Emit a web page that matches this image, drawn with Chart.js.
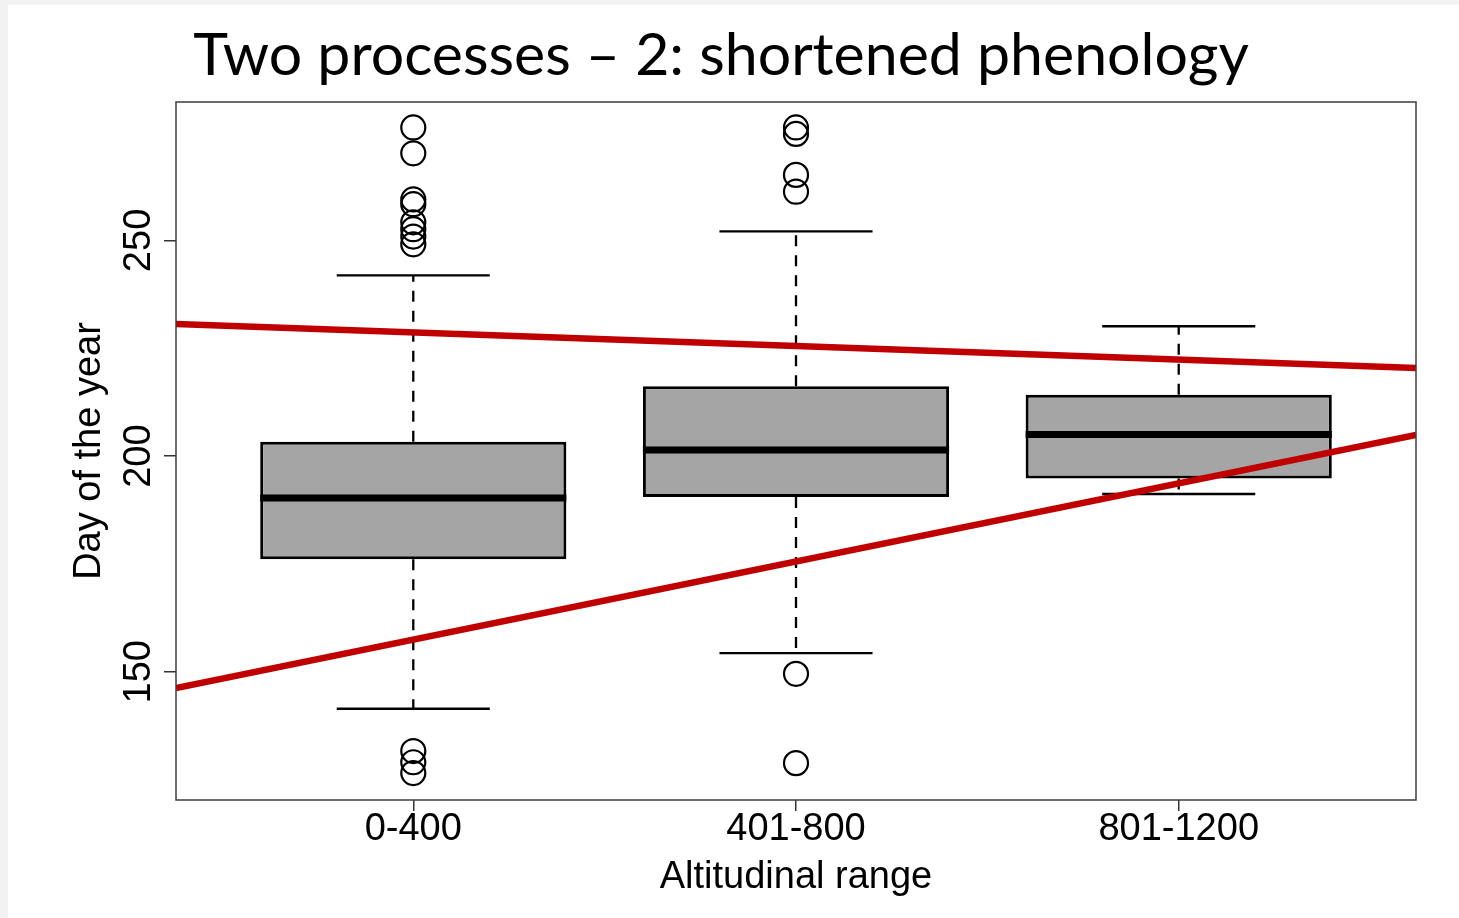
<!DOCTYPE html>
<html>
<head>
<meta charset="utf-8">
<script src="https://cdn.jsdelivr.net/npm/chart.js@4.4.1/dist/chart.umd.min.js"></script>
<style>
  html, body { margin: 0; padding: 0; background: #f2f2f2; }
  canvas { display: block; }
</style>
</head>
<body>
<canvas id="phenologyChart" width="1459" height="918"></canvas>
<script>
// boxplot summary per altitudinal range
var categories = ["0-400", "401-800", "801-1200"];
var catPos = [1, 2, 3];
var whiskerLow = [141.4, 154.3, 191.2];
var q1 = [176.1, 190.5, 194.8];
var medians = [190.3, 201.4, 205.0];
var q3 = [203.3, 216.2, 214.2];
var whiskerHigh = [241.9, 252.1, 230.1];
var outliers = [
  [276.2, 270.2, 259.5, 258.4, 254.2, 252.6, 250.9, 249.1, 131.6, 129.0, 126.5],
  [276.2, 274.7, 265.2, 261.3, 149.5, 128.8],
  []
];
var yTicks = [150, 200, 250];

// the two red trend lines, values at the left and right edge of the plot
var lineX = [0.38, 3.62];
var upperLine = [230.6, 220.4];
var lowerLine = [146.2, 204.9];

var BOX_HALF = 0.4;
var CAP_HALF = 0.2;
var axisFont = "'Liberation Sans', Arial, sans-serif";

// turn a list of [p1, p2] pairs into one broken line
function segments(pairs) {
  var pts = [];
  pairs.forEach(function (p) {
    pts.push(p[0], p[1], { x: p[1].x, y: null });
  });
  return pts;
}

var whiskerPts = segments(catPos.map(function (x, i) {
  return [{ x: x, y: q3[i] }, { x: x, y: whiskerHigh[i] }];
}).concat(catPos.map(function (x, i) {
  return [{ x: x, y: q1[i] }, { x: x, y: whiskerLow[i] }];
})));

var capPts = segments(catPos.map(function (x, i) {
  return [{ x: x - CAP_HALF, y: whiskerHigh[i] }, { x: x + CAP_HALF, y: whiskerHigh[i] }];
}).concat(catPos.map(function (x, i) {
  return [{ x: x - CAP_HALF, y: whiskerLow[i] }, { x: x + CAP_HALF, y: whiskerLow[i] }];
})));

var medianPts = segments(catPos.map(function (x, i) {
  return [{ x: x - BOX_HALF, y: medians[i] }, { x: x + BOX_HALF, y: medians[i] }];
}));

var outlierPts = [];
outliers.forEach(function (list, i) {
  list.forEach(function (v) { outlierPts.push({ x: catPos[i], y: v }); });
});

var decor = {
  id: "decor",
  beforeDraw: function (chart) {
    var c = chart.ctx;
    c.save();
    c.fillStyle = "#f2f2f2";
    c.fillRect(0, 0, chart.width, chart.height);
    c.fillStyle = "#ffffff";
    c.fillRect(8, 5, chart.width - 8, chart.height - 5);
    c.restore();
  },
  afterDraw: function (chart) {
    var c = chart.ctx;
    var a = chart.chartArea;
    var ys = chart.scales.y;
    c.save();
    c.strokeStyle = "#3c3c3c";
    c.lineWidth = 1.5;
    c.strokeRect(a.left, a.top, a.right - a.left, a.bottom - a.top);

    // rotated y tick labels, like R's las=0
    c.fillStyle = "#000";
    c.font = "38px " + axisFont;
    c.textAlign = "center";
    c.textBaseline = "alphabetic";
    yTicks.forEach(function (v) {
      c.save();
      c.translate(a.left - 26, ys.getPixelForValue(v));
      c.rotate(-Math.PI / 2);
      c.fillText(String(v), 0, 0);
      c.restore();
    });

    c.font = "59px Lato, 'Open Sans', sans-serif";
    c.textAlign = "center";
    c.fillText("Two processes \u2013 2: shortened phenology", 721, 75);
    c.restore();
  }
};

new Chart(document.getElementById("phenologyChart"), {
  type: "bar",
  data: {
    datasets: [
      {
        type: "line",
        data: lineX.map(function (x, i) { return { x: x, y: upperLine[i] }; }),
        borderColor: "#c00000",
        borderWidth: 6.5,
        pointRadius: 0
      },
      {
        type: "line",
        data: lineX.map(function (x, i) { return { x: x, y: lowerLine[i] }; }),
        borderColor: "#c00000",
        borderWidth: 6.5,
        pointRadius: 0
      },
      {
        type: "line",
        data: medianPts,
        borderColor: "#000",
        borderWidth: 7,
        pointRadius: 0,
        spanGaps: false
      },
      {
        type: "line",
        data: capPts,
        borderColor: "#000",
        borderWidth: 2.4,
        pointRadius: 0,
        spanGaps: false
      },
      {
        type: "scatter",
        data: outlierPts,
        showLine: false,
        pointRadius: 12,
        pointBorderWidth: 2.2,
        borderColor: "#000",
        backgroundColor: "rgba(0,0,0,0)"
      },
      {
        type: "bar",
        data: catPos.map(function (x, i) { return { x: x, y: [q1[i], q3[i]] }; }),
        backgroundColor: "#a5a5a5",
        borderColor: "#000",
        borderWidth: 3,
        borderSkipped: false,
        barPercentage: 0.8,
        categoryPercentage: 1
      },
      {
        type: "line",
        data: whiskerPts,
        borderColor: "#000",
        borderWidth: 2.3,
        borderDash: [11, 9],
        pointRadius: 0,
        spanGaps: false
      }
    ]
  },
  options: {
    responsive: false,
    animation: false,
    events: [],
    layout: { padding: { top: 102, right: 43, left: 0, bottom: 0 } },
    plugins: {
      legend: { display: false },
      tooltip: { enabled: false },
      title: { display: false }
    },
    scales: {
      x: {
        type: "linear",
        min: 0.38,
        max: 3.62,
        offset: false,
        afterBuildTicks: function (scale) {
          scale.ticks = catPos.map(function (v) { return { value: v }; });
        },
        afterFit: function (scale) { scale.height = 118; },
        ticks: {
          callback: function (value, index) { return categories[index]; },
          font: { family: axisFont, size: 38, lineHeight: 1 },
          color: "#000",
          padding: 0,
          maxRotation: 0,
          autoSkip: false
        },
        grid: {
          drawOnChartArea: false,
          drawTicks: true,
          tickLength: 11,
          color: "#333",
          lineWidth: 1.5,
          offset: false
        },
        border: { display: false },
        title: {
          display: true,
          text: "Altitudinal range",
          color: "#000",
          font: { family: axisFont, size: 38, lineHeight: 1.2 },
          padding: { top: 0, bottom: 18 }
        }
      },
      y: {
        type: "linear",
        min: 120.25,
        max: 282.1,
        afterBuildTicks: function (scale) {
          scale.ticks = yTicks.map(function (v) { return { value: v }; });
        },
        afterFit: function (scale) { scale.width = 176; },
        ticks: { display: false },
        grid: {
          drawOnChartArea: false,
          drawTicks: true,
          tickLength: 12,
          color: "#333",
          lineWidth: 1.5
        },
        border: { display: false },
        title: {
          display: true,
          text: "Day of the year",
          color: "#000",
          font: { family: axisFont, size: 38, lineHeight: 1.2 },
          padding: { top: 67, bottom: 0 }
        }
      }
    }
  },
  plugins: [decor]
});
</script>
</body>
</html>
